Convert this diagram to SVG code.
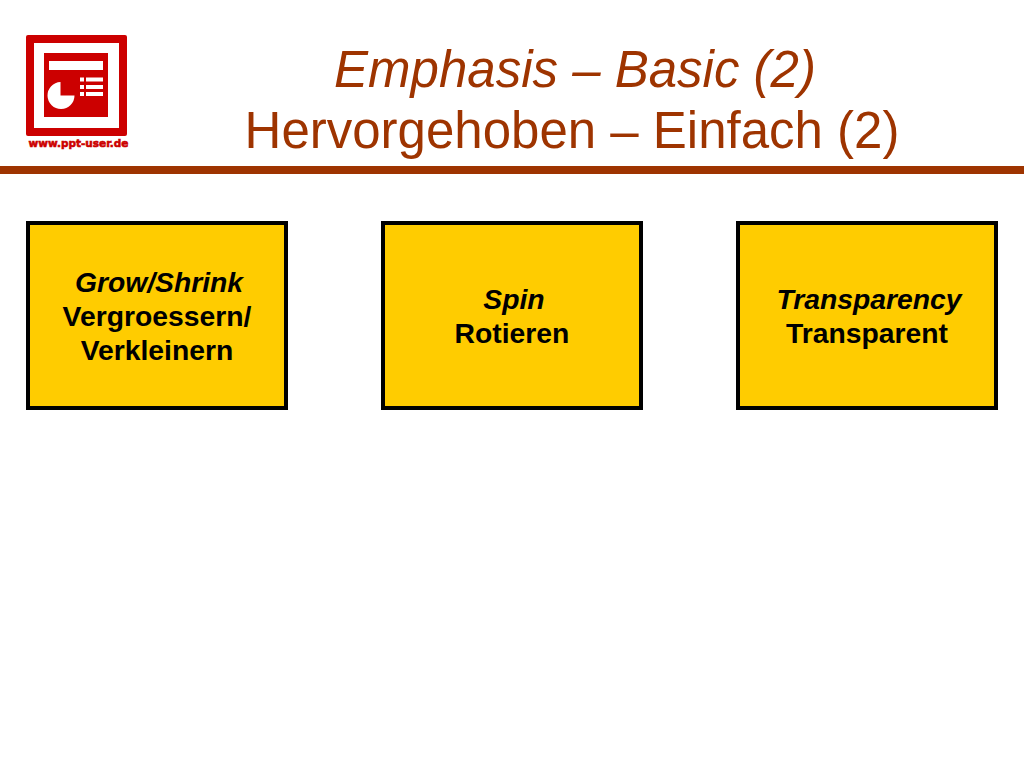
<svg xmlns="http://www.w3.org/2000/svg" width="1024" height="768" viewBox="0 0 1024 768">
<style>
text{font-family:"Liberation Sans",Arial,sans-serif}
.t{font-size:51px;fill:#9e3400;text-anchor:middle}
.b{fill:#ffcc00;stroke:#000;stroke-width:4}
.l{font-size:28.3px;font-weight:bold;fill:#000;text-anchor:middle}
.i{font-style:italic}
.w{fill:#fff}
</style>
<rect width="1024" height="768" fill="#fff"/>
<g id="logo">
<rect x="26" y="35" width="101" height="101" rx="2" fill="#cc0000"/>
<rect x="34" y="43" width="85" height="85" class="w"/>
<rect x="44" y="53" width="64" height="64" fill="#cc0000"/>
<rect x="49" y="61" width="54" height="9" class="w"/>
<path d="M60.500 82A13.500 13.500 0 1 0 74.500 95.500L60.500 95.500Z" class="w"/>
<rect x="80" y="77.500" width="4" height="4" class="w"/><rect x="86" y="77.500" width="17" height="4" class="w"/>
<rect x="80" y="85" width="4" height="4" class="w"/><rect x="86" y="85" width="17" height="4" class="w"/>
<rect x="80" y="92" width="4" height="4" class="w"/><rect x="86" y="92" width="17" height="4" class="w"/>
<text x="78.500" y="147" text-anchor="middle" font-size="11" font-weight="bold" fill="#cc0000" stroke="#cc0000" stroke-width=".6" textLength="100" lengthAdjust="spacingAndGlyphs" style="font-family:'DejaVu Sans',sans-serif">www.ppt-user.de</text>
</g>
<g id="title">
<text x="575" y="86.500" class="t i">Emphasis – Basic (2)</text>
<text x="572" y="147.500" class="t">Hervorgehoben – Einfach (2)</text>
<rect x="0" y="166" width="1024" height="8" fill="#9e3400"/>
</g>
<g id="node-grow">
<rect x="28" y="223" width="258" height="185" class="b"/>
<text x="159" y="292" class="l i">Grow/Shrink</text>
<text x="157" y="326" class="l">Vergroessern/</text>
<text x="157" y="360" class="l">Verkleinern</text>
</g>
<g id="node-spin">
<rect x="383" y="223" width="258" height="185" class="b"/>
<text x="514" y="309" class="l i">Spin</text>
<text x="512" y="343" class="l">Rotieren</text>
</g>
<g id="node-transparency">
<rect x="738" y="223" width="258" height="185" class="b"/>
<text x="869" y="309" class="l i">Transparency</text>
<text x="867" y="343" class="l">Transparent</text>
</g>
<g id="connectors"/>
</svg>
